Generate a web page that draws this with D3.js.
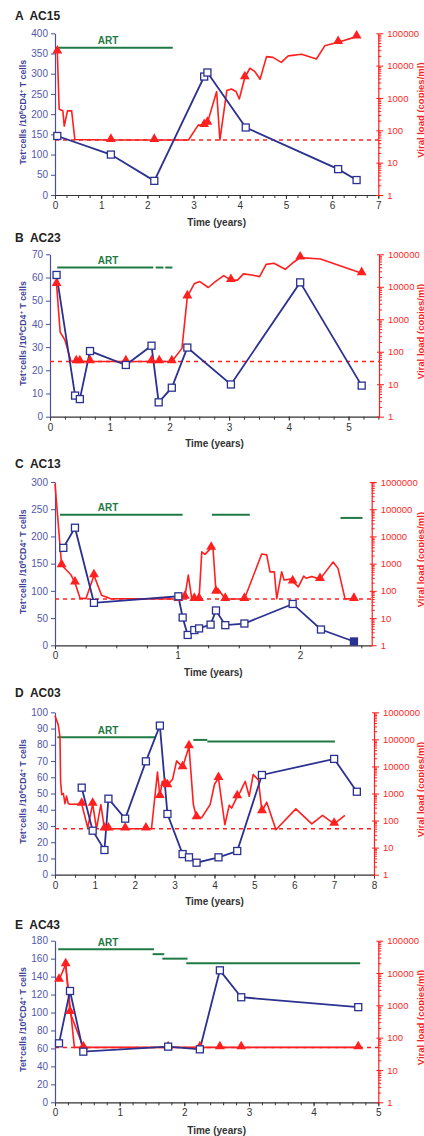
<!DOCTYPE html>
<html>
<head>
<meta charset="utf-8">
<script src="https://cdn.jsdelivr.net/npm/d3@7"></script>
<style>
  html, body { margin: 0; padding: 0; background: #fff; }
  svg { display: block; font-family: "Liberation Sans", Arial, sans-serif; }
</style>
</head>
<body>
<svg id="chart" width="424" height="1136"></svg>
<script>
// ---- data (time in years; Tet+ cells per 10^6 CD4+; viral load copies/ml, 3rd item = triangle marker) ----
const aTet = [[0.05,146],[1.21,100],[2.15,35],[3.23,293],[3.30,303],[4.13,167],[6.13,64],[6.53,37]];
const aVL = [[0.05,27000,1],[0.09,450],[0.17,400],[0.2,135],[0.27,400],[0.36,400],[0.43,52],[1.21,50,1],[2.15,50,1],
  [2.89,50],[3.1,145],[3.23,145,1],[3.30,170,1],[3.5,1580],[3.57,50],[3.72,1700],[3.82,1900],[3.92,1580],[3.99,930],
  [4.11,4300,1],[4.22,8300],[4.33,6500],[4.44,3800],[4.58,19000],[4.72,18000],[4.9,12600],[5.05,20000],[5.34,22600],
  [5.66,16000],[5.84,41000],[6.13,53000,1],[6.53,79000,1]];
const aArt = [[0.05,2.55,364]];

const bTet = [[0.11,61.1],[0.42,9.1],[0.50,7.6],[0.67,28.3],[1.27,22.3],[1.70,30.6],[1.82,6.2],[2.04,12.5],[2.30,29.8],
  [3.03,13.9],[4.19,57.9],[5.22,13.4]];
const bVL = [[0.11,12000,1],[0.17,400],[0.25,230],[0.35,52],[0.44,50,1],[0.5,50,1],[0.67,50,1],[1.27,50,1],[1.7,50,1],
  [1.83,50,1],[2.04,50,1],[2.21,127],[2.30,5000,1],[2.42,12700],[2.51,14500],[2.65,9500],[2.78,15000],[2.91,22000],
  [3.03,16000,1],[3.14,16000],[3.24,25000],[3.38,23000],[3.51,20500],[3.62,49000],[3.75,53000],[3.94,34500],
  [4.08,57000],[4.19,79000,1],[4.53,72000],[5.22,26000,1]];
const bArt = [[0.12,1.73,64.3],[1.77,1.90,64.3],[1.93,2.05,64.3]];

const cTet = [[0.068,179],[0.163,216],[0.318,78],[1.007,90],[1.042,51],[1.083,19],[1.137,28],[1.176,31],[1.27,38],
  [1.314,64],[1.39,37],[1.546,40],[1.94,76],[2.171,29],[2.44,7,1]];
const cVL = [[0,870000],[0.054,870,1],[0.095,570],[0.128,400],[0.163,200,1],[0.204,55],[0.253,52],[0.318,370,1],
  [0.38,69],[0.45,52],[0.99,50],[1.007,50,1],[1.06,60,1],[1.088,380],[1.116,52],[1.137,50,1],[1.176,50,1],
  [1.198,2700],[1.224,2200],[1.275,3800,1],[1.29,3600],[1.314,91,1],[1.33,120],[1.39,50,1],[1.546,50,1],
  [1.687,2250],[1.728,2100],[1.755,500],[1.79,500],[1.81,52],[1.85,500],[1.87,250],[1.92,270],[1.94,220,1],
  [1.986,140],[2.03,350],[2.05,290],[2.095,340],[2.163,270,1],[2.27,1150],[2.31,670],[2.367,52],[2.44,50,1]];
const cArt = [[0.04,1.042,240],[1.28,1.59,240],[2.33,2.51,234]];

const dTet = [[0.67,53.6],[0.945,27.1],[1.24,15.2],[1.34,46.8],[1.76,34.5],[2.28,69.8],[2.63,91.8],[2.82,37.4],
  [3.2,12.7],[3.36,10.7],[3.55,7.4],[4.1,10.7],[4.57,14.6],[5.19,61.4],[7.0,71.3],[7.57,51.1]];
const dVL = [[0,750000],[0.08,350000],[0.125,120000],[0.14,2800],[0.17,900],[0.21,1000],[0.25,420],[0.29,800],
  [0.33,430],[0.375,400],[0.67,410,1],[0.82,55],[0.945,410,1],[1.04,50],[1.15,390],[1.24,50,1],[1.34,50,1],
  [1.76,50,1],[2.28,50,1],[2.42,50],[2.57,6200],[2.63,790,1],[2.69,2800],[2.76,2200,1],[2.82,2000,1],[2.95,3400],
  [3.05,16000],[3.2,9300,1],[3.36,55000,1],[3.47,390],[3.55,130,1],[3.68,130],[3.89,390],[4.0,2200],[4.1,3700,1],
  [4.26,70],[4.37,370],[4.43,290],[4.57,780,1],[4.64,1100],[4.77,2800],[4.87,790],[4.97,5000],[5.1,3200],
  [5.19,220,1],[5.31,480],[5.54,46],[6.04,270],[6.44,75],[6.71,155],[7.0,75,1],[7.27,155]];
const dArt = [[0.06,2.53,84.6],[3.47,3.82,83],[3.82,7.02,82]];

const eTet = [[0.062,65.7],[0.232,124],[0.438,56.4],[1.75,62],[2.24,59],[2.55,147],[2.88,117],[4.69,106]];
const eVL = [[0.062,6100,1],[0.165,18500,1],[0.232,610,1],[0.438,50,1],[1.75,50,1],[2.24,50,1],[2.55,50,1],
  [2.88,50,1],[4.69,50,1]];
const eVL2 = [[0.165,18500],[0.30,50],[0.438,50]];
const eArt = [[0.05,1.53,170.4],[1.51,1.69,165],[1.66,2.05,160],[2.03,4.72,155]];

const detectionLimit = 50;

// ---- panels ----
const panels = [
  {tag:"A", name:"AC15", tet:aTet, vl:aVL, art:aArt, xMax:7, xMinor:0.25, yMax:400, yStep:50, vMax:1e5,
   top:33.3, bottom:195, left:55, right:378.3, titleY:20, timeY:225.5},
  {tag:"B", name:"AC23", tet:bTet, vl:bVL, art:bArt, xMax:5.51, xMinor:0.25, yMax:70, yStep:10, vMax:1e5,
   top:254.3, bottom:416.7, left:50, right:379, titleY:242, timeY:447},
  {tag:"C", name:"AC13", tet:cTet, vl:cVL, art:cArt, xMax:2.585, xMinor:0.25, yMax:300, yStep:50, vMax:1e6,
   top:482, bottom:645.3, left:55, right:371.7, titleY:468, timeY:675.5},
  {tag:"D", name:"AC03", tet:dTet, vl:dVL, art:dArt, xMax:8, xMinor:0.5, yMax:100, yStep:10, vMax:1e6,
   top:712.3, bottom:874.7, left:55, right:374, titleY:697, timeY:904.5},
  {tag:"E", name:"AC43", tet:eTet, vl:eVL, vl2:eVL2, art:eArt, xMax:5, xMinor:0.2, yMax:180, yStep:20, vMax:1e5,
   top:940.7, bottom:1102.3, left:55, right:378.3, titleY:929, timeY:1133.5}
];

const BLUE = "#2b3190", BLUE_TXT = "#5357a6", RED = "#ff1f1f", GREEN = "#1f7a45", GRAY = "#333";

const svg = d3.select("#chart");
svg.append("rect").attr("width", 424).attr("height", 1136).attr("fill", "#fff");

panels.forEach(drawPanel);

function drawPanel(p) {
  const g = svg.append("g");
  const x = d3.scaleLinear().domain([0, p.xMax]).range([p.left, p.right]);
  const y = d3.scaleLinear().domain([0, p.yMax]).range([p.bottom, p.top]);
  const yv = d3.scaleLog().domain([1, p.vMax]).range([p.bottom, p.top]);

  // title
  g.append("text").attr("x", 15).attr("y", p.titleY)
    .style("font-size", "12px").style("font-weight", "bold").attr("fill", "#222")
    .attr("xml:space", "preserve").text(p.tag + "  " + p.name);

  // x axis, minor ticks then major
  const minor = d3.range(0, p.xMax + 1e-9, p.xMinor);
  g.append("g").attr("transform", `translate(0,${p.bottom})`)
    .call(d3.axisBottom(x).tickValues(minor).tickSize(3).tickFormat(""))
    .call(a => a.select(".domain").remove())
    .call(a => a.selectAll("line").attr("stroke", GRAY));
  const xa = g.append("g").attr("transform", `translate(0,${p.bottom})`)
    .call(d3.axisBottom(x).tickValues(d3.range(0, Math.floor(p.xMax) + 1)).tickFormat(d3.format("d"))
      .tickSize(4).tickPadding(3).tickSizeOuter(0));
  xa.select(".domain").attr("stroke", GRAY).attr("stroke-width", 1.2);
  xa.selectAll("line").attr("stroke", GRAY);
  xa.selectAll("text").attr("fill", GRAY).style("font-size", "10px").style("font-family", null);

  g.append("text").attr("x", (p.left + p.right) / 2).attr("y", p.timeY)
    .attr("text-anchor", "middle").style("font-size", "10px").style("font-weight", "bold")
    .attr("fill", GRAY).text("Time (years)");

  // left axis
  const la = g.append("g").attr("transform", `translate(${p.left},0)`)
    .call(d3.axisLeft(y).tickValues(d3.range(0, p.yMax + 1, p.yStep)).tickSize(4).tickPadding(3).tickSizeOuter(0));
  la.select(".domain").attr("stroke", "#4b4f9e").attr("stroke-width", 1.2);
  la.selectAll("line").attr("stroke", "#4b4f9e");
  la.selectAll("text").attr("fill", BLUE_TXT).style("font-size", "10px").style("font-family", null);

  const lt = g.append("text")
    .attr("transform", `translate(26,${(p.top + p.bottom) / 2 - 2}) rotate(-90)`)
    .attr("text-anchor", "middle").style("font-size", "8.8px").style("font-weight", "bold").attr("fill", "#3c3f96");
  lt.append("tspan").text("Tet");
  lt.append("tspan").attr("dy", -3).style("font-size", "6px").text("+");
  lt.append("tspan").attr("dy", 3).text("cells /10");
  lt.append("tspan").attr("dy", -3).style("font-size", "6px").text("6");
  lt.append("tspan").attr("dy", 3).text("CD4");
  lt.append("tspan").attr("dy", -3).style("font-size", "6px").text("+");
  lt.append("tspan").attr("dy", 3).text(" T cells");

  // right log axis
  const decades = d3.range(0, Math.round(Math.log10(p.vMax)) + 1).map(k => Math.pow(10, k));
  const minorV = [];
  decades.slice(0, -1).forEach(dv => { for (let m = 2; m <= 9; m++) minorV.push(dv * m); });
  g.append("g").attr("transform", `translate(${p.right},0)`)
    .call(d3.axisRight(yv).tickValues(minorV).tickSize(3).tickFormat(""))
    .call(a => a.select(".domain").remove())
    .call(a => a.selectAll("line").attr("stroke", RED));
  const ra = g.append("g").attr("transform", `translate(${p.right},0)`)
    .call(d3.axisRight(yv).tickValues(decades).tickFormat(d3.format("d")).tickSize(5).tickPadding(4).tickSizeOuter(0));
  ra.select(".domain").attr("stroke", RED).attr("stroke-width", 1.2);
  ra.selectAll("line").attr("stroke", RED).attr("x1", -2);
  ra.selectAll("text").attr("fill", RED).style("font-size", "9.5px").style("font-family", null);

  g.append("text")
    .attr("transform", `translate(423.5,${(p.top + p.bottom) / 2 - 4}) rotate(-90)`)
    .attr("text-anchor", "middle").style("font-size", "9.5px").style("font-weight", "bold")
    .attr("fill", RED).text("Viral load (copies/ml)");

  // detection limit
  g.append("line")
    .attr("x1", x(0)).attr("x2", x(p.xMax)).attr("y1", yv(detectionLimit)).attr("y2", yv(detectionLimit))
    .attr("stroke", RED).attr("stroke-width", 1.5).attr("stroke-dasharray", "4,4");

  // ART bars
  g.selectAll(".art").data(p.art).join("line")
    .attr("x1", d => x(d[0])).attr("x2", d => x(d[1]))
    .attr("y1", d => y(d[2])).attr("y2", d => y(d[2]))
    .attr("stroke", GREEN).attr("stroke-width", 2);
  g.append("text").attr("x", 108).attr("y", y(p.art[0][2]) - 3.5)
    .attr("text-anchor", "middle").style("font-size", "10px").style("font-weight", "bold")
    .attr("fill", GREEN).text("ART");

  // viral load
  const vline = d3.line().x(d => x(d[0])).y(d => yv(d[1]));
  g.append("path").datum(p.vl).attr("d", vline)
    .attr("fill", "none").attr("stroke", RED).attr("stroke-width", 1.6).attr("stroke-linejoin", "round");
  if (p.vl2) {
    g.append("path").datum(p.vl2).attr("d", vline)
      .attr("fill", "none").attr("stroke", RED).attr("stroke-width", 1.6);
  }

  // Tet+ cells
  const tline = d3.line().x(d => x(d[0])).y(d => y(d[1]));
  g.append("path").datum(p.tet).attr("d", tline)
    .attr("fill", "none").attr("stroke", BLUE).attr("stroke-width", 1.8);

  g.selectAll(".tri").data(p.vl.filter(d => d[2])).join("path")
    .attr("d", d3.symbol(d3.symbolTriangle).size(42))
    .attr("transform", d => `translate(${x(d[0])},${yv(d[1]) - 1})`)
    .attr("fill", RED);

  g.selectAll(".sq").data(p.tet).join("rect")
    .attr("x", d => x(d[0]) - 3.5).attr("y", d => y(d[1]) - 3.5)
    .attr("width", 7).attr("height", 7)
    .attr("fill", d => d[2] ? BLUE : "#fff").attr("stroke", BLUE).attr("stroke-width", 1.3);
}
</script>
</body>
</html>
